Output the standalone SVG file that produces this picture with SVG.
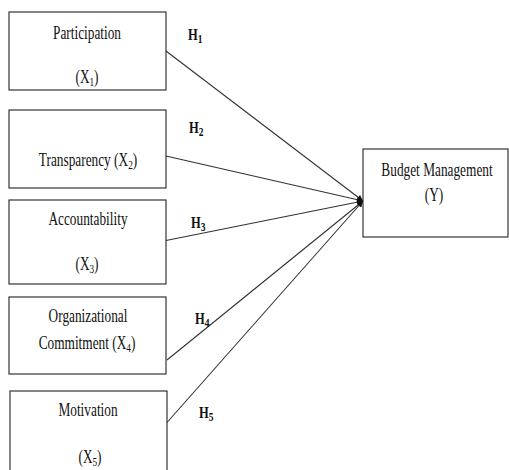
<svg xmlns="http://www.w3.org/2000/svg" width="509" height="470" viewBox="0 0 509 470">
<style>
.box{fill:#fff;stroke:#222;stroke-width:1.1}
.t{font-family:"Liberation Serif","Times New Roman",serif;font-size:18px;fill:#111;text-anchor:middle}
.h{font-family:"Liberation Serif","Times New Roman",serif;font-size:16.5px;font-weight:bold;fill:#111}
.sub{font-size:12.5px}
.c{stroke:#333;stroke-width:1.1;fill:none;marker-end:url(#ah)}
</style>
<defs>
<marker id="ah" viewBox="0 0 10 10" refX="10" refY="5" markerWidth="9" markerHeight="6" markerUnits="userSpaceOnUse" orient="auto">
<path d="M0,0 L10,5 L0,10 z" fill="#111"/>
</marker>
</defs>
<rect width="509" height="470" fill="#fff"/>
<g id="connectors">
<line class="c" x1="166" y1="51" x2="363" y2="201"/>
<line class="c" x1="166" y1="156" x2="363" y2="201"/>
<line class="c" x1="166" y1="240.5" x2="363" y2="201"/>
<line class="c" x1="167" y1="360" x2="363" y2="201"/>
<line class="c" x1="167" y1="422.5" x2="363" y2="201"/>
<text class="h" transform="translate(188,40) scale(0.76,1)">H<tspan class="sub" dy="3">1</tspan></text>
<text class="h" transform="translate(189,133) scale(0.76,1)">H<tspan class="sub" dy="3">2</tspan></text>
<text class="h" transform="translate(191,228) scale(0.76,1)">H<tspan class="sub" dy="3">3</tspan></text>
<text class="h" transform="translate(195,324) scale(0.76,1)">H<tspan class="sub" dy="3">4</tspan></text>
<text class="h" transform="translate(199,418) scale(0.76,1)">H<tspan class="sub" dy="3">5</tspan></text>
</g>
<g id="x1">
<rect class="box" x="9" y="12" width="157" height="78"/>
<text class="t" transform="translate(87,39) scale(0.74,1)">Participation</text>
<text class="t" transform="translate(87,83) scale(0.74,1)">(X<tspan class="sub" dy="3">1</tspan><tspan dy="-3">)</tspan></text>
</g>
<g id="x2">
<rect class="box" x="9" y="110" width="157" height="78"/>
<text class="t" transform="translate(88,166) scale(0.74,1)">Transparency (X<tspan class="sub" dy="3">2</tspan><tspan dy="-3">)</tspan></text>
</g>
<g id="x3">
<rect class="box" x="9" y="200" width="157" height="84"/>
<text class="t" transform="translate(88,225) scale(0.74,1)">Accountability</text>
<text class="t" transform="translate(87,270) scale(0.74,1)">(X<tspan class="sub" dy="3">3</tspan><tspan dy="-3">)</tspan></text>
</g>
<g id="x4">
<rect class="box" x="9" y="297" width="157" height="77"/>
<text class="t" transform="translate(88,322) scale(0.74,1)">Organizational</text>
<text class="t" transform="translate(87,349) scale(0.74,1)">Commitment  (X<tspan class="sub" dy="3">4</tspan><tspan dy="-3">)</tspan></text>
</g>
<g id="x5">
<rect class="box" x="10" y="391" width="157" height="84"/>
<text class="t" transform="translate(88,416) scale(0.74,1)">Motivation</text>
<text class="t" transform="translate(90,463) scale(0.74,1)">(X<tspan class="sub" dy="3">5</tspan><tspan dy="-3">)</tspan></text>
</g>
<g id="y">
<rect class="box" x="363" y="149" width="145" height="88"/>
<text class="t" transform="translate(437,175.5) scale(0.74,1)">Budget Management</text>
<text class="t" transform="translate(434,201) scale(0.74,1)">(Y)</text>
</g>
</svg>
